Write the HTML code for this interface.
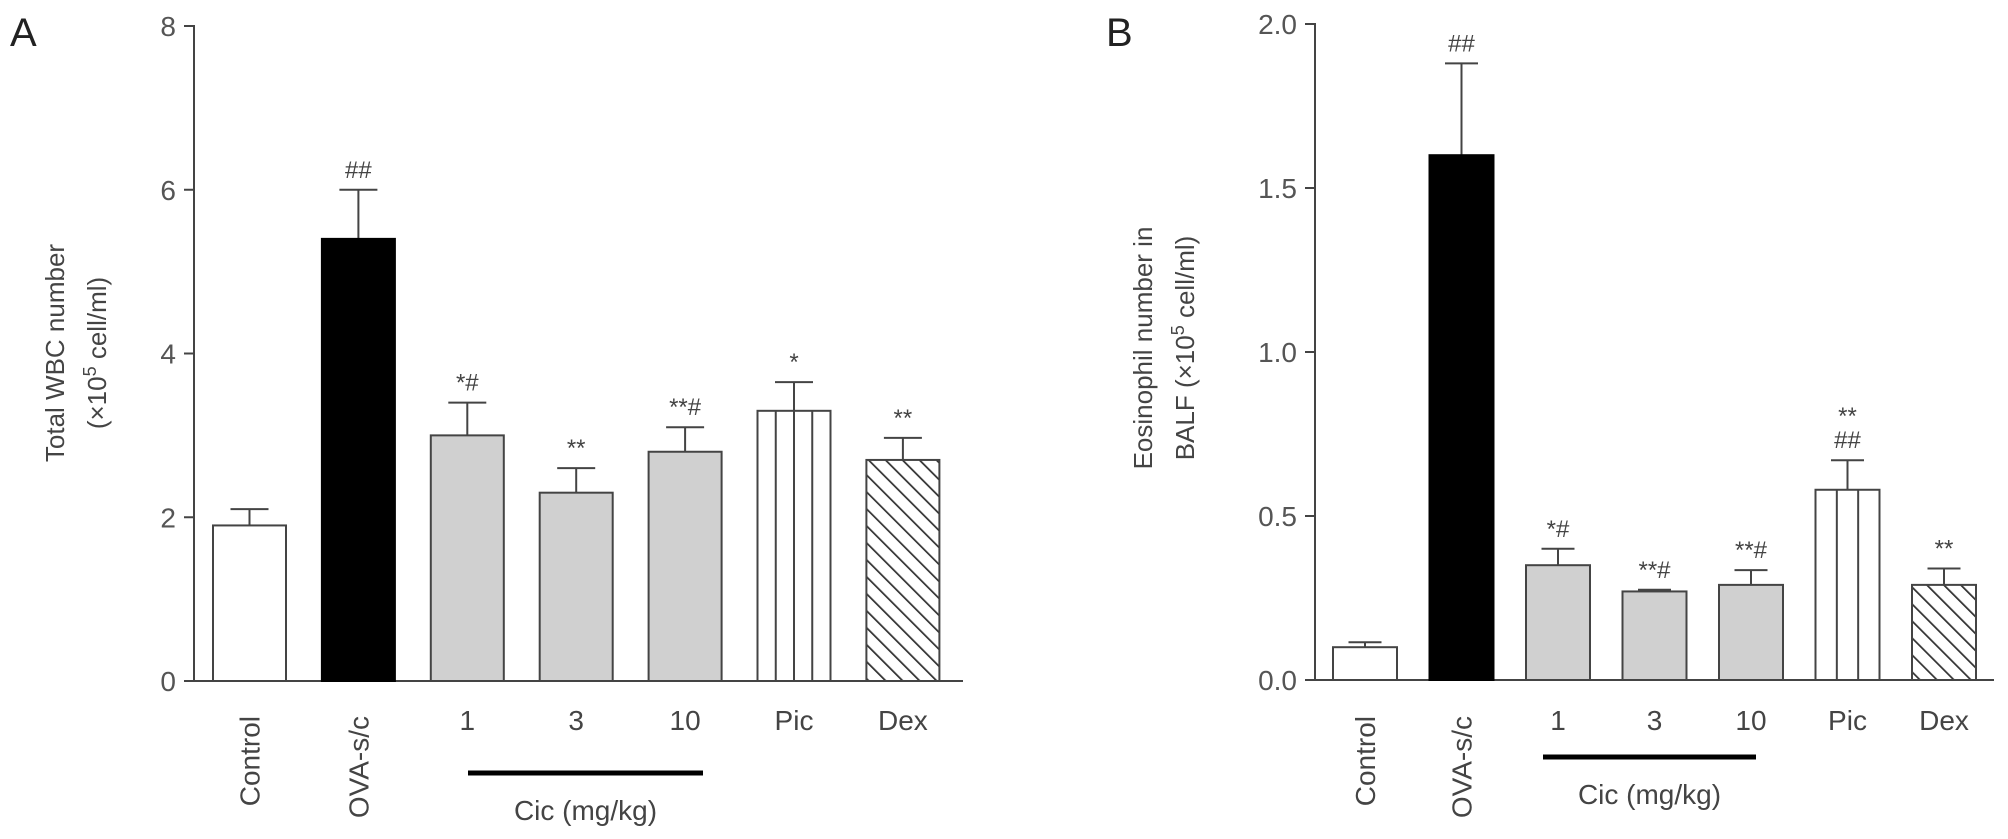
<!DOCTYPE html>
<html><head><meta charset="utf-8"><style>
html,body{margin:0;padding:0;background:#fff;}
svg{display:block;font-family:"Liberation Sans",sans-serif;}
</style></head><body>
<svg id="chart" width="2008" height="839" viewBox="0 0 2008 839" xmlns="http://www.w3.org/2000/svg">
<defs>
<pattern id="hatch" patternUnits="userSpaceOnUse" width="12" height="12" patternTransform="rotate(-45)">
<rect width="12" height="12" fill="#fff"/><line x1="0" y1="0" x2="0" y2="12" stroke="#333" stroke-width="3.5"/>
</pattern>
</defs>
<g id="gA"></g>
<g id="gB"></g>
</svg>
<script>
const categories = ["Control","OVA-s/c","1","3","10","Pic","Dex"];
const valuesA = [1.9,5.4,3.0,2.3,2.8,3.3,2.7];
const errorsA = [0.2,0.6,0.4,0.3,0.3,0.35,0.27];
const annotA = ["","##","*#","**","**#","*","**"];
const ticksA = [0,2,4,6,8];
const tickLabelsA = ["0","2","4","6","8"];
const valuesB = [0.10,1.60,0.35,0.27,0.29,0.58,0.29];
const errorsB = [0.015,0.28,0.05,0.005,0.045,0.09,0.05];
const annotB = ["","##","*#","**#","**#","**|##","**"];
const ticksB = [0,0.5,1.0,1.5,2.0];
const tickLabelsB = ["0.0","0.5","1.0","1.5","2.0"];

const NS="http://www.w3.org/2000/svg";
function mk(parent,tag,attrs,text){const e=document.createElementNS(NS,tag);for(const k in attrs)e.setAttribute(k,attrs[k]);if(text!==undefined)e.textContent=text;parent.appendChild(e);return e;}

function panel(g,cfg){
  const y=v=>cfg.y0-(v/cfg.ymax)*(cfg.y0-cfg.ytop);
  const bx=i=>cfg.bx0+i*cfg.step;
  let t=mk(g,'text',{x:cfg.letterX,y:46,'font-size':40,fill:'#222'},cfg.letter);
  
  
  let ax=mk(g,'path',{d:`M${cfg.ax-10},${cfg.ytop} H${cfg.ax} V${cfg.y0} H${cfg.axEnd}`,fill:'none',stroke:'#444','stroke-width':2});
  
  
  cfg.ticks.forEach((v,i)=>{
    const tk=mk(g,'line',{x1:cfg.ax-10,x2:cfg.ax,y1:y(v),y2:y(v),stroke:'#444','stroke-width':2});
    
    
    const tl=mk(g,'text',{x:cfg.ax-18,y:y(v)+10,'font-size':28,fill:'#555','text-anchor':'end'},cfg.tickLabels[i]);
    
    
  });
  const yt=mk(g,'text',{transform:`translate(${cfg.titleX},${cfg.titleY}) rotate(-90)`,'font-size':26,fill:'#444','text-anchor':'middle'});
  
  
  mk(yt,'tspan',{x:0,y:0},cfg.title1);
  mk(yt,'tspan',{x:0,y:42},cfg.title2a);
  mk(yt,'tspan',{dy:-10,'font-size':18},'5');
  mk(yt,'tspan',{dy:10},' cell/ml)');
  const fills=['#fff','#000','#d0d0d0','#d0d0d0','#d0d0d0','#fff','url(#hatch)'];
  cfg.vals.forEach((v,i)=>{
    const x=bx(i),w=cfg.bw,top=y(v),cx=x+w/2;
    const et=y(v+cfg.errs[i]);
    const el=mk(g,'line',{x1:cx,x2:cx,y1:top,y2:et,stroke:'#444','stroke-width':2});
    
    
    const cap=mk(g,'line',{x1:cx-cfg.cap/2,x2:cx+cfg.cap/2,y1:et,y2:et,stroke:'#444','stroke-width':2});
    
    
    const r=mk(g,'rect',{x:x,y:top,width:w,height:cfg.y0-top,fill:fills[i],stroke:i==1?'#000':'#444','stroke-width':2});
    
    
    if(i==5){for(let k=1;k<cfg.picN;k++){const lx=x+w*k/cfg.picN;const pl=mk(g,'line',{x1:lx,x2:lx,y1:top,y2:cfg.y0,stroke:'#444','stroke-width':2});
      
      }}
    const lines=cfg.ann[i].split('|').filter(s=>s);
    lines.forEach((s,j)=>{
      const an=mk(g,'text',{x:cx,y:et-12-(lines.length-1-j)*24,'font-size':24,fill:'#444','text-anchor':'middle'},s);
      
      
    });
    let lab;
    if(i<2){lab=mk(g,'text',{transform:`translate(${cx+10},${cfg.labY-14}) rotate(-90)`,'font-size':28,fill:'#444','text-anchor':'end'},categories[i]);}
    else{lab=mk(g,'text',{x:cx,y:cfg.labY,'font-size':28,fill:'#444','text-anchor':'middle'},categories[i]);}
    
    
  });
  const cl=mk(g,'line',{x1:cfg.cicX1,x2:cfg.cicX2,y1:cfg.cicY,y2:cfg.cicY,stroke:'#000','stroke-width':5});
  
  
  const ct=mk(g,'text',{x:(cfg.cicX1+cfg.cicX2)/2,y:cfg.cicY+47,'font-size':28,fill:'#444','text-anchor':'middle'},'Cic (mg/kg)');
  
  
}
panel(document.getElementById('gA'),{letter:'A',letterX:10,ax:194,axEnd:963,ytop:26,y0:681,ymax:8,ticks:ticksA,tickLabels:tickLabelsA,
  title1:'Total WBC number',title2a:'(×10',titleX:64,titleY:353,bx0:213,step:108.9,bw:73,cap:38,picN:4,
  vals:valuesA,errs:errorsA,ann:annotA,labY:730,cicX1:468,cicX2:703,cicY:773});
panel(document.getElementById('gB'),{letter:'B',letterX:1106,ax:1315,axEnd:1994,ytop:24,y0:680,ymax:2,ticks:ticksB,tickLabels:tickLabelsB,
  title1:'Eosinophil number in',title2a:'BALF (×10',titleX:1152,titleY:348,bx0:1333,step:96.5,bw:64,cap:33,picN:3,
  vals:valuesB,errs:errorsB,ann:annotB,labY:730,cicX1:1543,cicX2:1756,cicY:757});
</script>
</body></html>
